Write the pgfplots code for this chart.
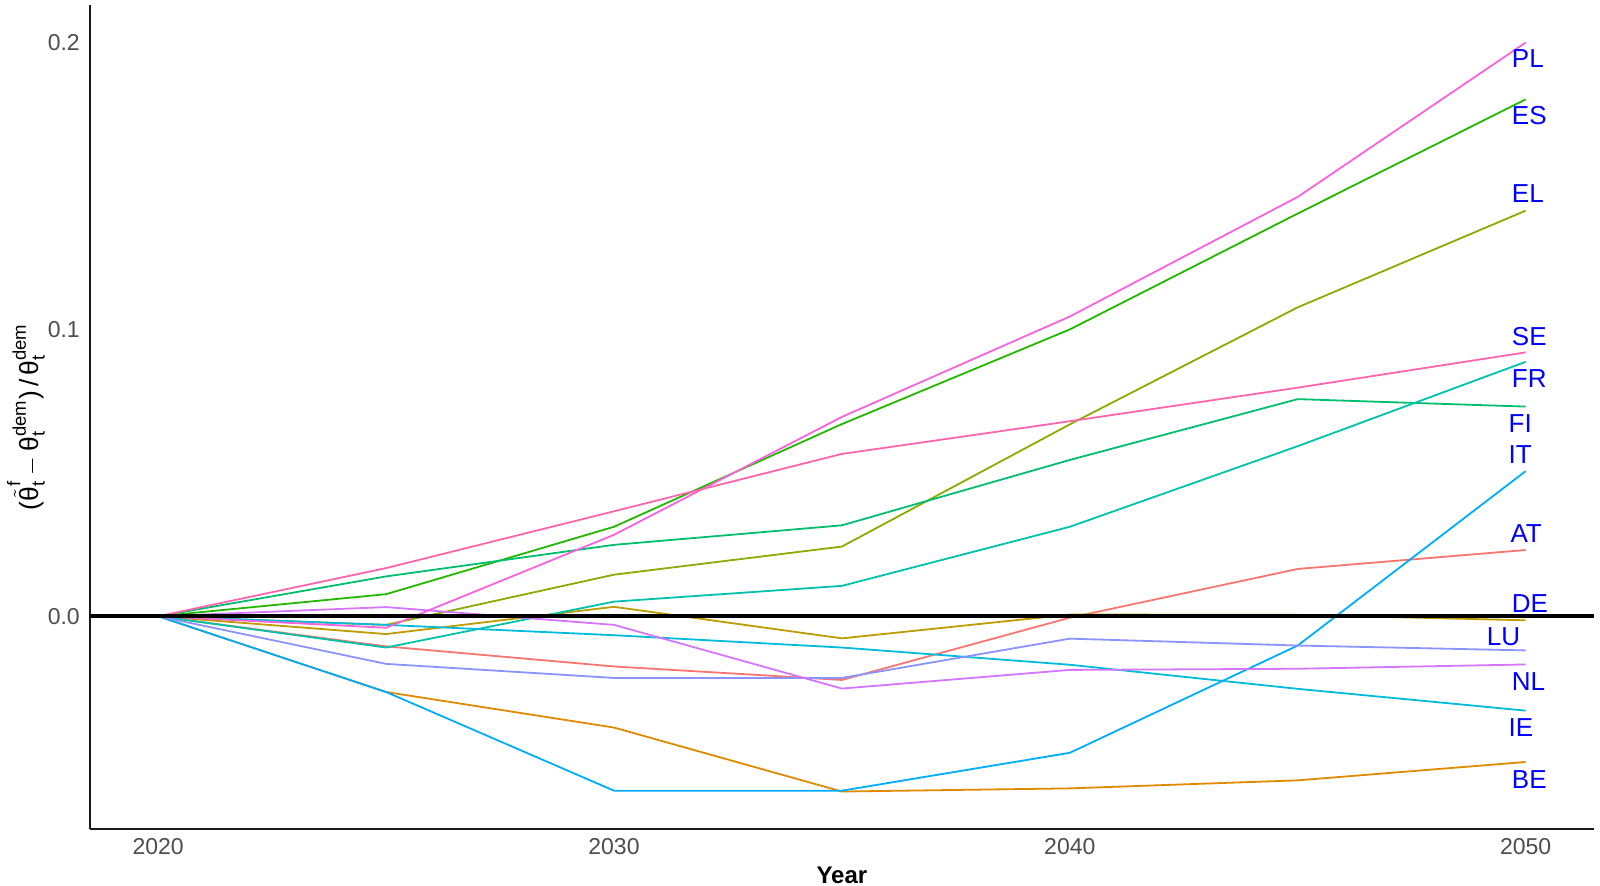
\documentclass[border=0pt]{standalone}
\usepackage{fontspec}
\setmainfont{Liberation Sans}
\usepackage{amsmath}
\usepackage{pgfplots}
\pgfplotsset{compat=1.18}
\definecolor{cAT}{HTML}{F8766D}
\definecolor{cBE}{HTML}{E18A00}
\definecolor{cDE}{HTML}{BE9C00}
\definecolor{cEL}{HTML}{8CAB00}
\definecolor{cES}{HTML}{24B700}
\definecolor{cFI}{HTML}{00BE70}
\definecolor{cFR}{HTML}{00C1AB}
\definecolor{cIE}{HTML}{00BBDA}
\definecolor{cIT}{HTML}{00ACFC}
\definecolor{cLU}{HTML}{8B93FF}
\definecolor{cNL}{HTML}{D575FE}
\definecolor{cPL}{HTML}{F962DD}
\definecolor{cSE}{HTML}{FF65AC}
\definecolor{gray30}{HTML}{4D4D4D}
\begin{document}
\begin{tikzpicture}
\begin{axis}[
  scale only axis, width=752pt, height=412pt,
  xmin=2018.5, xmax=2051.5, ymin=-0.0742, ymax=0.2131,
  axis x line*=bottom, axis y line*=left,
  axis line style={-, line width=0.8pt, black!90},
  xtick={2020,2030,2040,2050}, xticklabels={2020,2030,2040,2050},
  ytick={0,0.1,0.2}, yticklabels={0.0,0.1,0.2},
  tick style={draw=none},
  ticklabel style={font=\fontsize{11.5}{13}\selectfont, text=gray30},
  xticklabel style={yshift=-1pt},
  yticklabel style={xshift=-1.5pt},
  xlabel={\textbf{Year}},
  xlabel style={font=\fontsize{12}{14}\selectfont, inner sep=0pt, at={(axis description cs:0.5,0)}, anchor=north, yshift=-18.5pt},
  ylabel={$\text{(}\tilde{\text{θ}}^{\text{f}}_{\text{t}}-\text{θ}^{\text{dem}}_{\text{t}}\text{)}\,\text{/}\,\text{θ}^{\text{dem}}_{\text{t}}$},
  ylabel style={font=\fontsize{13.2}{15}\selectfont, at={(axis description cs:-0.0425,0.5)}, anchor=center},
  every axis plot/.append style={line width=0.9pt},
]
\addplot[cAT] coordinates {(2020,0) (2025,-0.0105) (2030,-0.0175) (2035,-0.0222) (2040,-0.0005) (2045,0.0165) (2050,0.0231)};
\addplot[cBE] coordinates {(2020,0) (2025,-0.0264) (2030,-0.0388) (2035,-0.0611) (2040,-0.0600) (2045,-0.0572) (2050,-0.0508)};
\addplot[cDE] coordinates {(2020,0) (2025,-0.0062) (2030,0.0033) (2035,-0.0077) (2040,0.0006) (2045,0.0005) (2050,-0.0014)};
\addplot[cEL] coordinates {(2020,0) (2025,-0.0030) (2030,0.0145) (2035,0.0243) (2040,0.0669) (2045,0.1077) (2050,0.1414)};
\addplot[cES] coordinates {(2020,0) (2025,0.0077) (2030,0.0312) (2035,0.0670) (2040,0.1000) (2045,0.1404) (2050,0.1802)};
\addplot[cFI] coordinates {(2020,0) (2025,0.0139) (2030,0.0249) (2035,0.0317) (2040,0.0545) (2045,0.0757) (2050,0.0731)};
\addplot[cFR] coordinates {(2020,0) (2025,-0.0109) (2030,0.0051) (2035,0.0106) (2040,0.0312) (2045,0.0593) (2050,0.0887)};
\addplot[cIE] coordinates {(2020,0) (2025,-0.0030) (2030,-0.0066) (2035,-0.0109) (2040,-0.0169) (2045,-0.0253) (2050,-0.0329)};
\addplot[cIT] coordinates {(2020,0) (2025,-0.0264) (2030,-0.0608) (2035,-0.0608) (2040,-0.0476) (2045,-0.0102) (2050,0.0506)};
\addplot[cLU] coordinates {(2020,0) (2025,-0.0166) (2030,-0.0215) (2035,-0.0215) (2040,-0.0078) (2045,-0.0102) (2050,-0.0119)};
\addplot[cNL] coordinates {(2020,0) (2025,0.0032) (2030,-0.0030) (2035,-0.0252) (2040,-0.0187) (2045,-0.0183) (2050,-0.0168)};
\addplot[cPL] coordinates {(2020,0) (2025,-0.0040) (2030,0.0284) (2035,0.0695) (2040,0.1045) (2045,0.1462) (2050,0.2000)};
\addplot[cSE] coordinates {(2020,0) (2025,0.0168) (2030,0.0366) (2035,0.0566) (2040,0.0680) (2045,0.0797) (2050,0.0920)};
\addplot[black, line width=1.8pt] coordinates {(2018.5,0) (2051.5,0)};
\begin{scope}[every node/.style={anchor=west, inner sep=0pt, text=blue, font=\fontsize{13}{15}\selectfont}]
\node at (axis cs:2049.69,0.1944) {PL};
\node at (axis cs:2049.69,0.1745) {ES};
\node at (axis cs:2049.69,0.1472) {EL};
\node at (axis cs:2049.69,0.0975) {SE};
\node at (axis cs:2049.69,0.0830) {FR};
\node at (axis cs:2049.62,0.0673) {FI};
\node at (axis cs:2049.62,0.0564) {IT};
\node at (axis cs:2049.66,0.0288) {AT};
\node at (axis cs:2049.69,0.0043) {DE};
\node at (axis cs:2049.14,-0.0072) {LU};
\node at (axis cs:2049.69,-0.0229) {NL};
\node at (axis cs:2049.62,-0.0389) {IE};
\node at (axis cs:2049.69,-0.0568) {BE};
\end{scope}
\end{axis}
\pgfresetboundingbox
\path[use as bounding box] ([xshift=-44.9pt,yshift=-28pt]current axis.south west) rectangle ([xshift=3pt,yshift=2.5pt]current axis.north east);
\end{tikzpicture}
\end{document}
